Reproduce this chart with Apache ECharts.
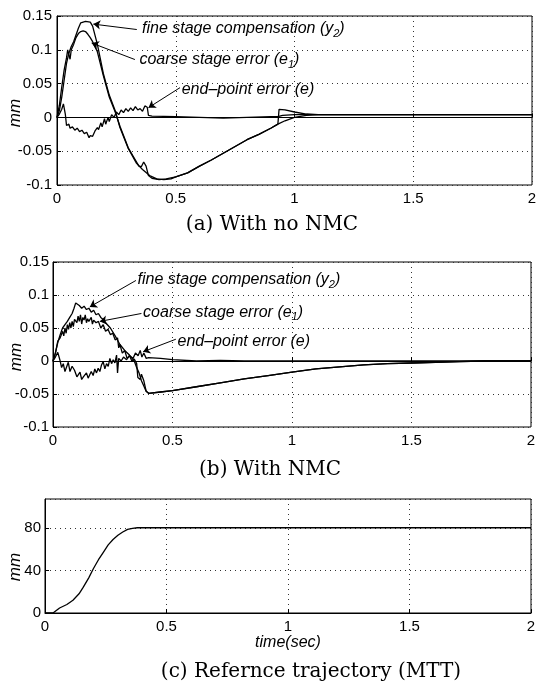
<!DOCTYPE html>
<html>
<head>
<meta charset="utf-8">
<script src="https://cdn.jsdelivr.net/npm/echarts@6/dist/echarts.min.js"></script>
<style>
    html, body { margin: 0; padding: 0; background: #fff; }
    #main { width: 544px; height: 684px; }
</style>
</head>
<body>
<div id="main"></div>
<script>
// (a) With no NMC
var tFineA = [0, 0.01, 0.02, 0.03, 0.04, 0.05, 0.06, 0.07, 0.08, 0.09, 0.10, 0.12, 0.14, 0.15, 0.17, 0.195, 0.22, 0.245, 0.265, 0.30, 0.335, 0.36, 0.39, 0.42, 0.45, 0.48, 0.5, 0.55, 0.6, 0.65, 0.7, 0.75, 0.8, 0.85, 0.9, 0.93, 0.935, 0.96, 1.0, 1.05, 1.1, 1.5, 2.0];
var fineA = [0, 0.01, 0.03, 0.055, 0.08, 0.095, 0.105, 0.112, 0.122, 0.132, 0.14, 0.142, 0.141, 0.135, 0.108, 0.065, 0.033, 0.01, -0.015, -0.046, -0.068, -0.077, -0.086, -0.091, -0.092, -0.091, -0.088, -0.082, -0.072, -0.063, -0.053, -0.043, -0.033, -0.025, -0.016, -0.01, 0.012, 0.011, 0.008, 0.005, 0.004, 0.004, 0.004];

var tCoarseA = [0, 0.01, 0.02, 0.03, 0.04, 0.045, 0.05, 0.055, 0.06, 0.07, 0.08, 0.09, 0.10, 0.11, 0.12, 0.13, 0.14, 0.15, 0.17, 0.195, 0.22, 0.245, 0.265, 0.30, 0.33, 0.345, 0.355, 0.365, 0.375, 0.385, 0.40, 0.43, 0.46, 0.5, 0.55, 0.6, 0.65, 0.7, 0.75, 0.8, 0.85, 0.9, 0.93, 0.96, 1.0, 1.05, 1.1, 1.5, 2.0];
var coarseA = [0, 0.018, 0.045, 0.07, 0.088, 0.1, 0.098, 0.086, 0.1, 0.108, 0.118, 0.124, 0.127, 0.128, 0.127, 0.123, 0.118, 0.112, 0.097, 0.062, 0.03, 0.008, -0.013, -0.045, -0.063, -0.072, -0.073, -0.066, -0.072, -0.086, -0.09, -0.092, -0.091, -0.088, -0.082, -0.072, -0.063, -0.053, -0.043, -0.033, -0.025, -0.016, -0.01, -0.005, 0.0, 0.003, 0.004, 0.004, 0.004];

var tEndA = [0, 0.01, 0.02, 0.027, 0.035, 0.04, 0.05, 0.055, 0.065, 0.075, 0.085, 0.095, 0.105, 0.115, 0.125, 0.135, 0.14, 0.15, 0.16, 0.17, 0.175, 0.185, 0.19, 0.2, 0.205, 0.215, 0.22, 0.23, 0.24, 0.25, 0.26, 0.27, 0.28, 0.29, 0.3, 0.31, 0.32, 0.33, 0.34, 0.35, 0.36, 0.37, 0.38, 0.385, 0.4, 0.5, 0.6, 0.7, 0.8, 0.9, 0.93, 0.95, 1.0, 1.1, 1.5, 2.0];
var endA = [0, 0.005, 0.012, 0.02, 0.005, -0.012, -0.01, -0.016, -0.014, -0.019, -0.016, -0.021, -0.019, -0.024, -0.022, -0.03, -0.027, -0.028, -0.02, -0.015, -0.018, -0.008, -0.014, -0.002, -0.01, 0.0, -0.006, 0.004, 0.0, 0.008, 0.004, 0.011, 0.007, 0.013, 0.009, 0.014, 0.01, 0.016, 0.011, 0.013, 0.009, 0.017, 0.015, 0.003, 0.002, 0.001, 0.0, -0.001, 0.0, 0.001, 0.001, 0.003, 0.004, 0.004, 0.004, 0.004];

// (b) With NMC
var tFineB = [0, 0.01, 0.02, 0.03, 0.04, 0.05, 0.06, 0.07, 0.08, 0.088, 0.095, 0.11, 0.12, 0.13, 0.14, 0.15, 0.16, 0.17, 0.18, 0.19, 0.2, 0.21, 0.22, 0.24, 0.26, 0.28, 0.3, 0.32, 0.34, 0.35, 0.36, 0.37, 0.38, 0.39, 0.4, 0.45, 0.5, 0.6, 0.7, 0.8, 0.9, 1.0, 1.1, 1.2, 1.3, 1.4, 1.5, 1.6, 1.7, 1.8, 2.0];
var fineB = [0, 0.012, 0.028, 0.04, 0.05, 0.055, 0.06, 0.066, 0.072, 0.08, 0.088, 0.084, 0.08, 0.083, 0.078, 0.08, 0.074, 0.077, 0.07, 0.072, 0.066, 0.063, 0.058, 0.05, 0.038, 0.025, 0.016, 0.009, 0.0, -0.01, -0.018, -0.03, -0.038, -0.046, -0.049, -0.047, -0.045, -0.039, -0.033, -0.027, -0.022, -0.017, -0.012, -0.009, -0.006, -0.004, -0.003, -0.002, -0.001, 0, 0];

var tCoarseB = [0, 0.01, 0.02, 0.03, 0.04, 0.045, 0.05, 0.055, 0.06, 0.065, 0.07, 0.075, 0.08, 0.085, 0.09, 0.095, 0.1, 0.105, 0.11, 0.115, 0.12, 0.125, 0.13, 0.135, 0.14, 0.145, 0.15, 0.16, 0.165, 0.17, 0.18, 0.19, 0.2, 0.21, 0.22, 0.23, 0.24, 0.25, 0.26, 0.27, 0.275, 0.28, 0.29, 0.3, 0.31, 0.32, 0.33, 0.34, 0.35, 0.355, 0.365, 0.37, 0.38, 0.39, 0.4, 0.45, 0.5, 0.6, 0.7, 0.8, 0.9, 1.0, 1.1, 1.2, 1.3, 1.4, 1.5, 1.6, 1.7, 1.8, 2.0];
var coarseB = [0, 0.012, 0.03, 0.035, 0.045, 0.038, 0.05, 0.042, 0.055, 0.048, 0.058, 0.05, 0.06, 0.052, 0.063, 0.066, 0.058, 0.068, 0.06, 0.07, 0.056, 0.066, 0.062, 0.07, 0.058, 0.064, 0.06, 0.066, 0.056, 0.062, 0.058, 0.06, 0.05, 0.055, 0.045, 0.048, 0.04, 0.042, 0.032, 0.035, 0.02, 0.025, 0.012, 0.016, 0.004, 0.008, 0.0, 0.003, -0.004, -0.025, -0.028, -0.02, -0.03, -0.046, -0.049, -0.047, -0.045, -0.039, -0.033, -0.027, -0.022, -0.017, -0.012, -0.009, -0.006, -0.004, -0.003, -0.002, -0.001, 0, 0];

var tEndB = [0, 0.01, 0.02, 0.03, 0.036, 0.043, 0.05, 0.057, 0.064, 0.071, 0.08, 0.09, 0.1, 0.106, 0.113, 0.12, 0.127, 0.135, 0.14, 0.147, 0.154, 0.16, 0.168, 0.175, 0.182, 0.189, 0.196, 0.203, 0.21, 0.217, 0.224, 0.231, 0.238, 0.245, 0.252, 0.259, 0.266, 0.27, 0.275, 0.285, 0.295, 0.308, 0.32, 0.335, 0.345, 0.356, 0.365, 0.372, 0.38, 0.39, 0.4, 0.45, 0.5, 0.6, 0.7, 0.8, 1.0, 1.5, 2.0];
var endB = [0, 0.006, 0.013, 0.0, -0.01, -0.004, -0.016, -0.013, -0.002, -0.016, -0.008, -0.014, -0.024, -0.026, -0.017, -0.028, -0.024, -0.027, -0.018, -0.026, -0.028, -0.016, -0.022, -0.012, -0.018, -0.011, -0.016, -0.006, -0.001, -0.012, -0.004, -0.008, 0.004, -0.004, 0.002, -0.003, 0.009, -0.018, 0.004, 0.0, 0.006, 0.002, 0.008, 0.004, 0.012, 0.008, 0.016, 0.006, 0.012, 0.004, 0.005, 0.004, 0.002, 0.0, 0.001, 0.0, 0.0, 0.0, 0.0];

// (c) Reference trajectory
var tRef = [0, 0.033, 0.06, 0.09, 0.115, 0.14, 0.157, 0.18, 0.2, 0.22, 0.24, 0.26, 0.28, 0.3, 0.32, 0.34, 0.36, 0.38, 0.4, 2.0];
var refC = [0, 0, 4.7, 8, 12, 18, 24, 33, 42, 50, 57, 64, 69, 73, 76, 78.5, 79.5, 80, 80, 80];

var timeTicks = [0, 0.5, 1, 1.5, 2];

// annotation texts, anchored in data coordinates
var annotA = [
    { text: '{t|fine stage compensation (y}{s|2}{t|)}', at: [0.358, 0.131], from: [0.336, 0.130], to: [0.153, 0.138] },
    { text: '{t|coarse stage error (e}{s|1}{t|)}', at: [0.347, 0.0856], from: [0.328, 0.0856], to: [0.146, 0.110] },
    { text: '{t|end\u2013point error (e)}', at: [0.525, 0.041], from: [0.518, 0.044], to: [0.385, 0.0144] }
];
var annotB = [
    { text: '{t|fine stage compensation (y}{s|2}{t|)}', at: [0.354, 0.123], from: [0.347, 0.122], to: [0.154, 0.082] },
    { text: '{t|coarse stage error (e}{s|1}{t|)}', at: [0.377, 0.074], from: [0.370, 0.072], to: [0.196, 0.060] },
    { text: '{t|end\u2013point error (e)}', at: [0.521, 0.029], from: [0.514, 0.033], to: [0.377, 0.014] }
];

function zip(t, v) {
    return t.map(function (x, i) { return [x, v[i]]; });
}

var sansFont = 'Liberation Sans';
var serifFont = 'DejaVu Serif';

function xAx(idx, name) {
    var ax = {
        type: 'value', gridIndex: idx, min: timeTicks[0], max: timeTicks[timeTicks.length - 1], interval: 0.5,
        axisLine: { show: true, lineStyle: { color: '#000', width: 1 } },
        axisTick: { show: true, inside: true, length: 4, lineStyle: { color: '#000' } },
        axisLabel: { color: '#000', fontFamily: sansFont, fontSize: 15, margin: 6 },
        splitLine: { show: true, lineStyle: { color: '#333', type: [1, 4], width: 1 } }
    };
    if (name) {
        ax.name = name;
        ax.nameLocation = 'middle';
        ax.nameGap = 21;
        ax.nameTextStyle = { color: '#000', fontFamily: sansFont, fontSize: 16, fontStyle: 'italic' };
    }
    return ax;
}

function yAx(idx, min, max, interval, margin) {
    return {
        type: 'value', gridIndex: idx, min: min, max: max, interval: interval,
        axisLine: { show: true, lineStyle: { color: '#000', width: 1 } },
        axisTick: { show: true, inside: true, length: 4, lineStyle: { color: '#000' } },
        axisLabel: { color: '#000', fontFamily: sansFont, fontSize: 15, margin: margin, showMaxLabel: idx !== 2 },
        splitLine: { show: true, lineStyle: { color: '#333', type: [1, 4], width: 1 } }
    };
}

function trace(idx, t, v, annot) {
    var s = {
        type: 'line', xAxisIndex: idx, yAxisIndex: idx, data: zip(t, v),
        showSymbol: false, symbol: 'none', silent: true,
        lineStyle: { color: '#000', width: 1.3 }
    };
    if (annot) {
        s.markLine = {
            silent: true, symbol: ['none', 'arrow'], symbolSize: 7,
            lineStyle: { color: '#000', width: 1, type: 'solid' },
            label: { show: false },
            data: annot.map(function (a) { return [{ coord: a.from }, { coord: a.to }]; })
        };
        s.markPoint = {
            silent: true, symbol: 'circle', symbolSize: 0,
            data: annot.map(function (a) {
                return {
                    coord: a.at,
                    label: {
                        show: true, position: 'right', distance: 0, formatter: a.text,
                        rich: {
                            t: { fontFamily: sansFont, fontSize: 16, fontStyle: 'italic', color: '#000' },
                            s: { fontFamily: sansFont, fontSize: 11, fontStyle: 'italic', color: '#000', padding: [10, 0, 0, 0] }
                        }
                    }
                };
            })
        };
    }
    return s;
}

function mmLabel(x, y) {
    return {
        type: 'text', x: x, y: y, rotation: Math.PI / 2,
        style: { text: 'mm', fontFamily: sansFont, fontSize: 17, fontStyle: 'italic', fill: '#000', align: 'center', verticalAlign: 'middle' }
    };
}

function caption(x, y, text) {
    return {
        type: 'text', x: x, y: y,
        style: { text: text, fontFamily: serifFont, fontSize: 20, fill: '#000', align: 'center', verticalAlign: 'middle' }
    };
}

var myChart = echarts.init(document.getElementById('main'));
var option = {
    backgroundColor: '#fff',
    animation: false,
    grid: [
        { left: 57, right: 12, top: 16, height: 169, show: true, borderColor: '#000', borderWidth: 1 },
        { left: 53, right: 13, top: 262, height: 165, show: true, borderColor: '#000', borderWidth: 1 },
        { left: 45, right: 13, top: 499, height: 114, show: true, borderColor: '#000', borderWidth: 1 }
    ],
    xAxis: [xAx(0), xAx(1), xAx(2, 'time(sec)')],
    yAxis: [yAx(0, -0.1, 0.15, 0.05, 5), yAx(1, -0.1, 0.15, 0.05, 4), yAx(2, 0, 107, 40, 4)],
    series: [
        trace(0, tFineA, fineA),
        trace(0, tCoarseA, coarseA),
        trace(0, tEndA, endA, annotA),
        trace(1, tFineB, fineB),
        trace(1, tCoarseB, coarseB),
        trace(1, tEndB, endB, annotB),
        trace(2, tRef, refC)
    ],
    graphic: [
        mmLabel(15, 113),
        mmLabel(16, 357),
        mmLabel(15, 567),
        caption(272, 225, '(a) With no NMC'),
        caption(270, 470, '(b) With NMC'),
        caption(311, 672, '(c) Refernce trajectory (MTT)')
    ]
};
myChart.setOption(option);
window.addEventListener('resize', function () {
    myChart.resize();
});
</script>
</body>
</html>
